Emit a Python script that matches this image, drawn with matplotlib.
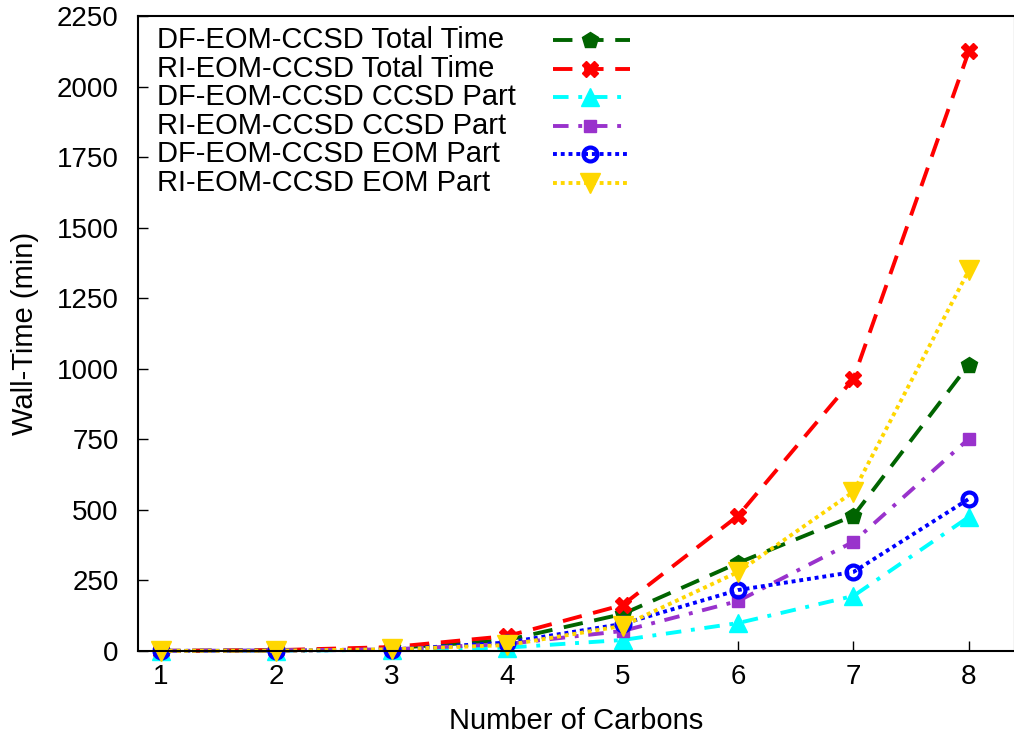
import matplotlib
matplotlib.use("Agg")
import matplotlib.pyplot as plt

plt.rcParams['font.family'] = ['Liberation Sans', 'DejaVu Sans']

carbons = [1, 2, 3, 4, 5, 6, 7, 8]

df_total = [0.5, 2, 10, 39, 131, 312, 479, 1015]
ri_total = [0.5, 3, 14, 53, 163, 479, 965, 2125]
df_ccsd = [0.2, 1, 4, 12, 39, 99, 195, 475]
ri_ccsd = [0.3, 2, 6, 25, 71, 177, 387, 752]
df_eom = [0.3, 1, 5, 30, 96, 216, 280, 539]
ri_eom = [0.3, 1, 6, 21, 89, 280, 564, 1349]

labels = ['DF-EOM-CCSD Total Time', 'RI-EOM-CCSD Total Time',
          'DF-EOM-CCSD CCSD Part', 'RI-EOM-CCSD CCSD Part',
          'DF-EOM-CCSD EOM Part', 'RI-EOM-CCSD EOM Part']
series = [df_total, ri_total, df_ccsd, ri_ccsd, df_eom, ri_eom]
colors = ['#006400', '#ff0000', '#00ffff', '#9932cc', '#0000ff', '#ffd700']
styles = [(0, (5, 3)), (0, (5, 3)), (0, (4, 2.5, 1, 2.5)), (0, (4, 2.5, 1, 2.5)),
          (0, (1, 1)), (0, (1, 1))]
markers = ['p', 'X', '^', 's', 'o', 'v']
msizes = [12, 12, 13, 9, 10, 14]

fig = plt.figure(figsize=(10.14, 7.42), dpi=100)
ax = fig.add_axes([138 / 1014, 1 - 651 / 742, (1015 - 138) / 1014, 635 / 742])

for i in range(len(series)):
    mfc = 'none' if markers[i] == 'o' else colors[i]
    mew = 3 if markers[i] == 'o' else 1
    ax.plot(carbons, series[i], color=colors[i], linestyle=styles[i], linewidth=2.8,
            marker=markers[i], markersize=msizes[i], markerfacecolor=mfc,
            markeredgecolor=colors[i], markeredgewidth=mew, clip_on=False)
    # gnuplot-style key: text left, sample right
    ky = 0.962 - i * 0.045
    ax.text(0.0217, ky, labels[i], transform=ax.transAxes, fontsize=21,
            va='center', ha='left')
    ax.plot([0.473, 0.561], [ky, ky], transform=ax.transAxes, color=colors[i],
            linestyle=styles[i], linewidth=2.8)
    ax.plot([0.515], [ky], transform=ax.transAxes, color=colors[i],
            marker=markers[i], markersize=msizes[i], markerfacecolor=mfc,
            markeredgecolor=colors[i], markeredgewidth=mew)

ax.set_xlim(0.8, 8.4)
ax.set_ylim(0, 2250)
ax.set_xticks(carbons)
ax.set_yticks(range(0, 2251, 250))
ax.tick_params(direction='in', length=7, width=1, labelsize=20)
ax.tick_params(axis='x', pad=9)
ax.tick_params(axis='y', pad=14)
ax.set_xlabel('Number of Carbons', fontsize=21)
ax.set_ylabel('Wall-Time (min)', fontsize=21)
ax.xaxis.set_label_coords(0.5, -0.088)
ax.yaxis.set_label_coords(-0.113, 0.5)
for s in ax.spines.values():
    s.set_linewidth(1.5)

fig.savefig('out.png', dpi=100)
